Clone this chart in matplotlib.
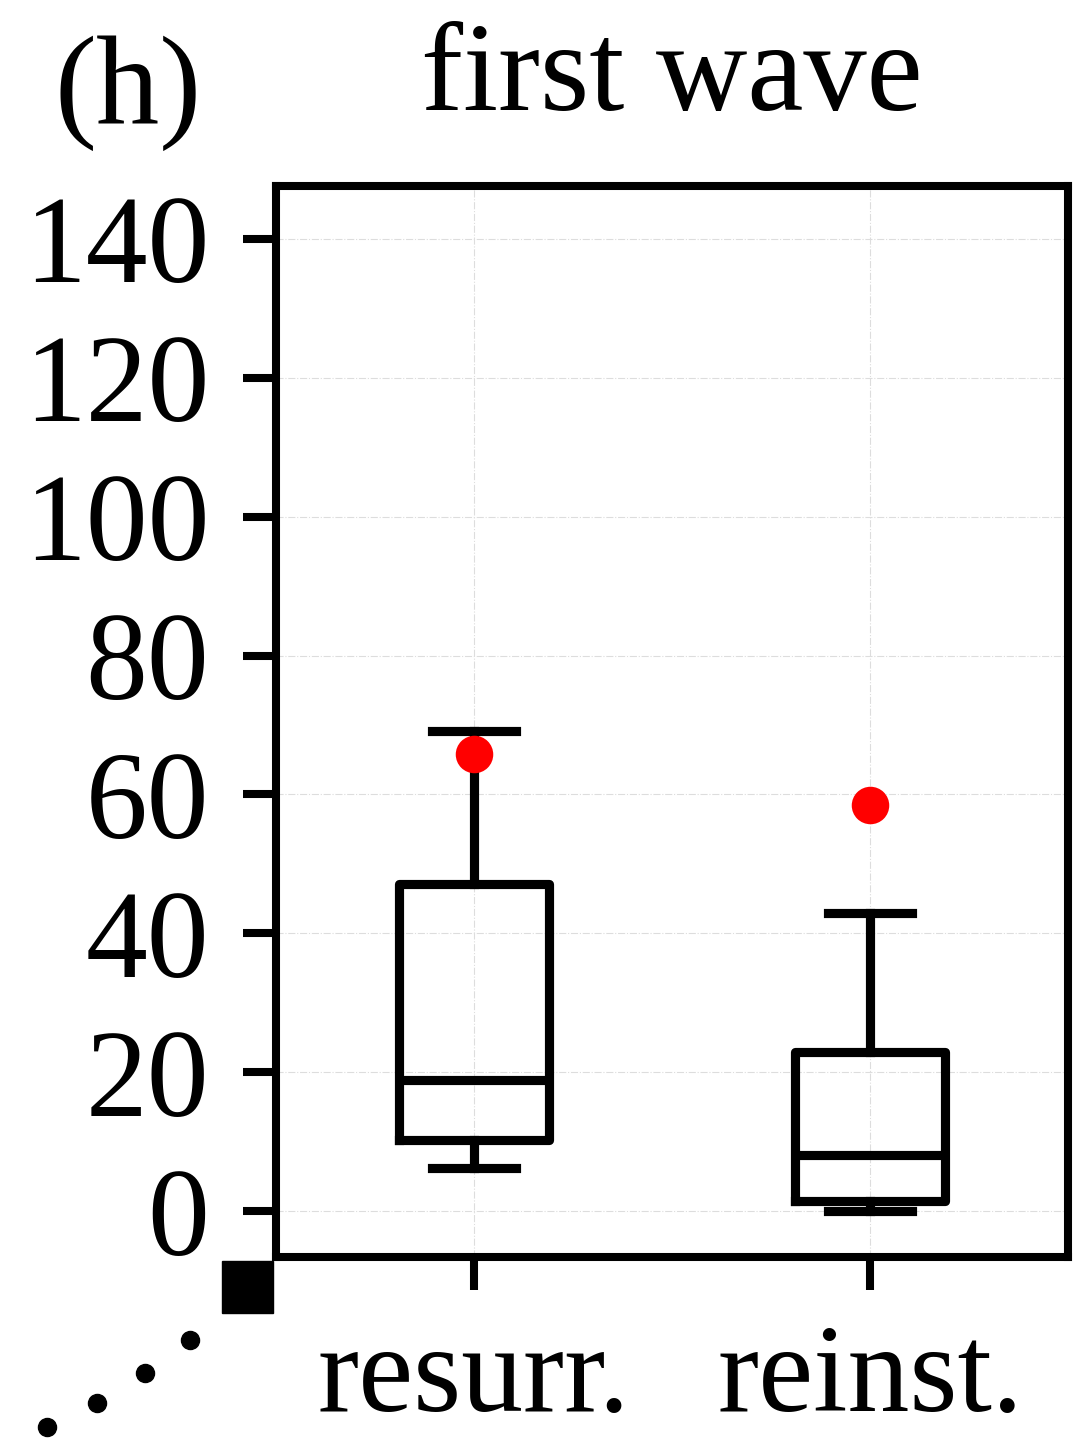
import matplotlib
matplotlib.use("Agg")
import matplotlib.pyplot as plt
from matplotlib.lines import Line2D

# data
groups = ["resurr.", "reinst."]
whisker_low = [6.2, 0.0]
q1 = [10.2, 1.4]
median = [18.9, 8.1]
q3 = [47.1, 22.9]
whisker_high = [69.1, 42.9]
red_points = [65.8, 58.5]
yticks = [0, 20, 40, 60, 80, 100, 120, 140]

plt.rcParams['font.family'] = ['Liberation Serif', 'DejaVu Serif']

fig = plt.figure(figsize=(10.77, 14.41), dpi=100)
ax = fig.add_axes([276 / 1077, 1 - 1257 / 1441, 792 / 1077, 1071 / 1441])

lw = 6.6
stats = []
for i, name in enumerate(groups):
    stats.append({'label': name, 'whislo': whisker_low[i], 'q1': q1[i],
                  'med': median[i], 'q3': q3[i], 'whishi': whisker_high[i],
                  'fliers': []})

ax.bxp(stats, positions=[1, 2], widths=0.38, showfliers=False,
       boxprops=dict(color='black', linewidth=lw, solid_joinstyle='round'),
       medianprops=dict(color='black', linewidth=lw),
       whiskerprops=dict(color='black', linewidth=lw),
       capprops=dict(color='black', linewidth=lw),
       capwidths=0.21, zorder=3)

ax.plot([1, 2], red_points, 'o', color='red', markersize=27, zorder=4,
        markeredgewidth=0)

ax.set_xlim(0.5, 2.5)
ax.set_ylim(-6.6, 147.6)
ax.set_yticks(yticks)
ax.set_xticks([1, 2])
ax.set_xticklabels(groups)

ax.grid(True, color='#dddddd', linestyle='-.', linewidth=0.8, zorder=0)
ax.set_axisbelow(True)

for sp in ax.spines.values():
    sp.set_linewidth(5.8)
ax.tick_params(axis='both', direction='out', length=24, width=5.8,
               labelsize=89, pad=24)

ax.set_title('first wave', fontsize=91, pad=55)
fig.text(55 / 1077, 1 - 124 / 1441, '(h)', fontsize=91, ha='left',
         va='baseline')

# stray marks in the lower left corner of the panel
fig.patches.append(plt.Rectangle((222 / 1077, 1 - 1313 / 1441), 51 / 1077,
                                 52 / 1441, transform=fig.transFigure,
                                 color='black'))
fig.lines.append(Line2D([190 / 1077, 145 / 1077, 97 / 1077, 47 / 1077],
                        [1 - 1340 / 1441, 1 - 1373 / 1441, 1 - 1403 / 1441,
                         1 - 1427 / 1441],
                        transform=fig.transFigure, linestyle='none',
                        marker='o', markersize=13, color='black'))

fig.savefig('out.png', dpi=100)
